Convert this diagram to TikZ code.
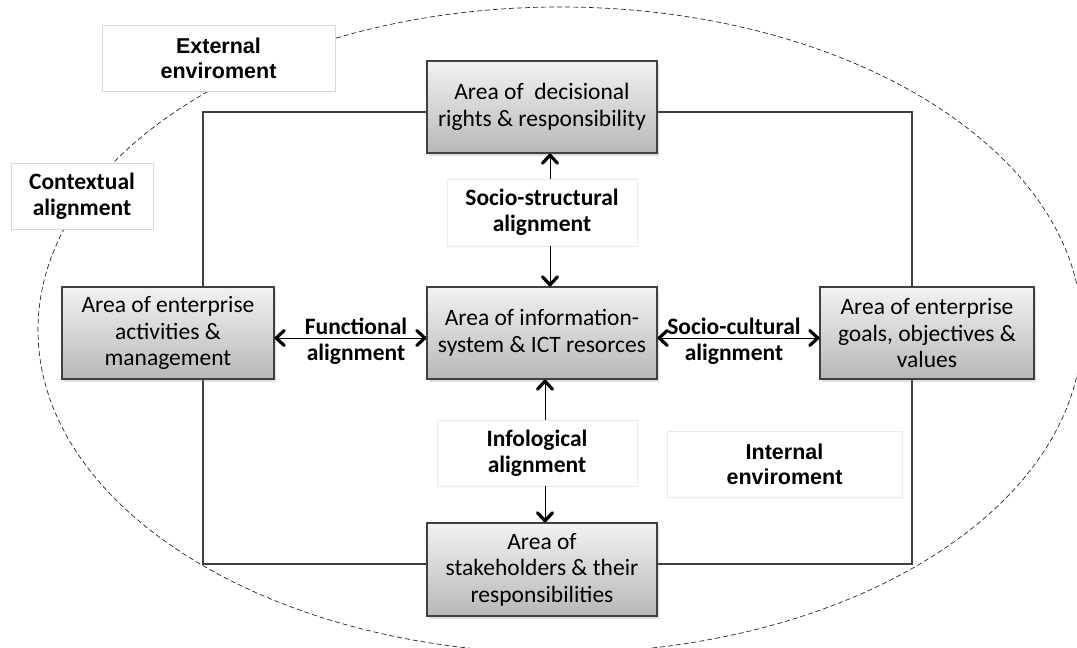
\documentclass[tikz,border=0pt]{standalone}
\usepackage{fontspec}
\newfontfamily\calib{Carlito}
\newfontfamily\arialf{Liberation Sans}
\usetikzlibrary{arrows.meta,shadows}
\definecolor{edgegray}{HTML}{404040}
\definecolor{labelgray}{HTML}{D9D9D9}
\tikzset{
  area/.style={draw=edgegray, line width=1.2pt, top color=black!5, bottom color=black!28,
    drop shadow={shadow xshift=2pt, shadow yshift=-2.5pt, opacity=0.25},
    align=center, inner sep=0pt, font=\calib\fontsize{23.5}{26.5}\selectfont},
  tag/.style={draw=labelgray, line width=0.6pt, fill=white, align=center, inner sep=0pt,
    font=\calib\bfseries\fontsize{23.5}{26}\selectfont},
  envtag/.style={tag, font=\arialf\bfseries\fontsize{21.5}{25}\selectfont},
  frame/.style={draw=edgegray, line width=1.1pt},
  barb/.tip={Straight Barb[length=8pt,width=15pt,line width=3.2pt 0 1,round]},
  arr/.style={black, line width=0.9pt, barb-barb},
  onearr/.style={black, line width=0.9pt, -barb},
  bound/.style={draw=black!85, line width=0.7pt, dash pattern=on 5pt off 3pt}
}
\begin{document}
\begin{tikzpicture}[x=1pt,y=-1pt]
\useasboundingbox (0,0) rectangle (1077,648);

% outer boundary of the enterprise
\draw[bound] (560,330) ellipse [x radius=522, y radius=323];

% frame linking the four outer areas
\draw[frame] (203,112) rectangle (912,564);

% areas
\node[area, minimum width=230pt, minimum height=92pt] (top) at (542,107)
  {Area of~ decisional\\rights \& responsibility};
\node[area, minimum width=212pt, minimum height=92pt] (left) at (168,333)
  {Area of enterprise\\activities \&\\management};
\node[area, minimum width=230pt, minimum height=92pt] (center) at (542,333)
  {Area of information-\\system \& ICT resorces};
\node[area, minimum width=214pt, minimum height=92pt] (right) at (927,333)
  {Area of enterprise\\goals, objectives \&\\values};
\node[area, minimum width=230pt, minimum height=93pt] (bottom) at (542,569.5)
  {Area of\\stakeholders \& their\\responsibilities};

% environment and alignment labels
\node[envtag, minimum width=233pt, minimum height=66pt] (ext) at (218.5,58)
  {External\\enviroment};
\node[tag, minimum width=142pt, minimum height=66pt] (ctx) at (82,196)
  {Contextual\\alignment};
\node[tag, draw=black!8, minimum width=190pt, minimum height=67pt] (ss) at (542,212.5)
  {Socio-structural\\alignment};
\node[tag, draw=black!8, minimum width=200pt, minimum height=66pt] (info) at (537,453)
  {Infological\\alignment};
\node[envtag, draw=black!8, minimum width=235pt, minimum height=66pt] (int) at (784.5,464)
  {Internal\\enviroment};

% alignment connectors
\draw[arr] ([yshift=-5pt]left.east) -- ([yshift=-5pt]center.west);
\draw[arr] ([yshift=-5pt]center.east) -- ([yshift=-5pt]right.west);
\node[font=\calib\bfseries\fontsize{23.5}{26}\selectfont, align=center] (fa) at (356,341)
  {Functional\\alignment};
\node[font=\calib\bfseries\fontsize{23.5}{26}\selectfont, align=center] (sc) at (734,341)
  {Socio-cultural\\alignment};
\draw[onearr] ([xshift=8pt]ss.north) -- ([xshift=8pt]ss.north |- top.south);
\draw[onearr] ([xshift=8pt]ss.south) -- ([xshift=8pt]ss.south |- center.north);
\draw[onearr] ([xshift=8pt]info.north) -- ([xshift=8pt]info.north |- center.south);
\draw[onearr] ([xshift=8pt]info.south) -- ([xshift=8pt]info.south |- bottom.north);
\end{tikzpicture}
\end{document}
